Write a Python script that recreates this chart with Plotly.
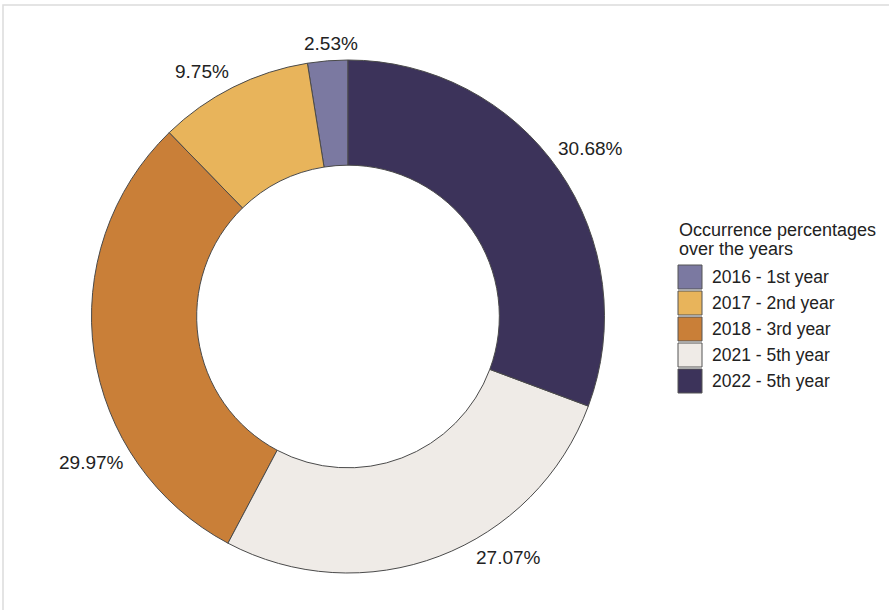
import plotly.graph_objects as go

labels = ["2016 - 1st year", "2017 - 2nd year", "2018 - 3rd year", "2021 - 5th year", "2022 - 5th year"]
values = [2.53, 9.75, 29.97, 27.07, 30.68]
colors = ["#7b79a1", "#e8b45b", "#c97f38", "#efebe7", "#3c335a"]
legend_title = ["Occurrence percentages", "over the years"]

# label placement (pixel centres of the percentage labels) - style, not data
label_px = [(331, 44), (202, 72), (91, 462), (508, 557), (590, 148)]

W, H = 889, 610
cx, cy, r = 348, 316.5, 256.5
FONT = "Liberation Sans, Arial, Helvetica, sans-serif"

fig = go.Figure()
fig.add_trace(go.Pie(
    labels=labels,
    values=values,
    sort=False,
    direction="counterclockwise",
    rotation=-values[0] / sum(values) * 360,
    hole=0.59,
    marker=dict(colors=colors, line=dict(color="#4a4a4a", width=1)),
    textinfo="none",
    automargin=False,
    showlegend=False,
    domain=dict(x=[(cx - r) / W, (cx + r) / W], y=[(H - cy - r) / H, (H - cy + r) / H]),
    hoverinfo="label+percent",
))

annotations = []
for v, (px, py) in zip(values, label_px):
    annotations.append(dict(
        text=f"{v:.2f}%", x=px / W, y=1 - py / H, xref="paper", yref="paper",
        xanchor="center", yanchor="middle", showarrow=False,
        font=dict(family=FONT, size=19, color="#222222"),
    ))

# legend (title lines + swatches + item labels)
lx, title_y0, title_dy = 677, 230, 19
for i, t in enumerate(legend_title):
    annotations.append(dict(
        text=t, x=lx / W, y=1 - (title_y0 + i * title_dy) / H, xref="paper", yref="paper",
        xanchor="left", yanchor="middle", showarrow=False,
        font=dict(family=FONT, size=18, color="#222222"),
    ))

shapes = []
sw_top, sw_size, sw_pitch = 265, 24, 26
for i, (lab, col) in enumerate(zip(labels, colors)):
    y0 = sw_top + i * sw_pitch
    shapes.append(dict(
        type="rect", xref="paper", yref="paper",
        x0=(lx + 1) / W, x1=(lx + 1 + sw_size) / W,
        y0=1 - (y0 + sw_size) / H, y1=1 - y0 / H,
        fillcolor=col, line=dict(color="#555555", width=1),
    ))
    annotations.append(dict(
        text=lab, x=710 / W, y=1 - (y0 + sw_size / 2) / H, xref="paper", yref="paper",
        xanchor="left", yanchor="middle", showarrow=False,
        font=dict(family=FONT, size=17.5, color="#222222"),
    ))

# light frame (cropped at right/bottom as in the reference)
shapes.append(dict(type="rect", xref="paper", yref="paper",
                   x0=3 / W, x1=1.05, y0=-0.05, y1=1 - 5 / H,
                   line=dict(color="#dcdcdc", width=1.5), layer="below"))

fig.update_layout(
    width=W, height=H,
    margin=dict(l=0, r=0, t=0, b=0),
    paper_bgcolor="white",
    plot_bgcolor="white",
    font=dict(family=FONT, color="#222222"),
    showlegend=False,
    annotations=annotations,
    shapes=shapes,
)

fig.write_html("out.html")
